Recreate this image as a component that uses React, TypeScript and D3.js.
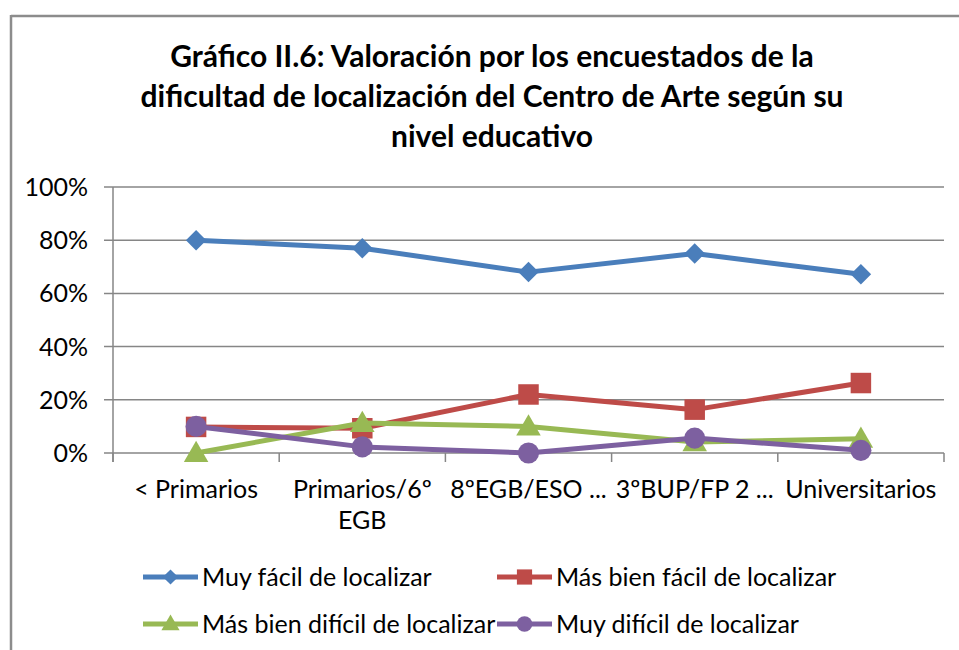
import React from 'react';
import * as d3 from 'd3';

const categories = ['< Primarios', 'Primarios/6º EGB', '8ºEGB/ESO ...', '3ºBUP/FP 2 ...', 'Universitarios'];
const tickLabels = [['< Primarios'], ['Primarios/6º', 'EGB'], ['8ºEGB/ESO ...'], ['3ºBUP/FP 2 ...'], ['Universitarios']];
const seriesNames = ['Muy fácil de localizar', 'Más bien fácil de localizar', 'Más bien difícil de localizar', 'Muy difícil de localizar'];
const muyFacil = [80, 77, 68, 75, 67.2];
const masBienFacil = [9.8, 9.3, 22, 16.3, 26.3];
const masBienDificil = [0, 11.3, 10, 4.1, 5.4];
const muyDificil = [10, 2.3, 0, 5.6, 1];
const yTicks = [0, 20, 40, 60, 80, 100];
const titleLines = [
  'Gráfico II.6: Valoración por los encuestados de la',
  'dificultad de localización del Centro de Arte según su',
  'nivel educativo',
];

const colors = ['#4a7ebb', '#be4b48', '#98b954', '#7d60a0'];
// diamond = square turned 45 degrees
const shapes = [d3.symbolSquare, d3.symbolSquare, d3.symbolTriangle, d3.symbolCircle];
const rotations = [45, 0, 0, 0];
const symbolSizes = [210, 420, 260, 350];

const W = 959;
const H = 650;
const FONT = 'Lato, "Open Sans", sans-serif';

export default function App() {
  const values = [muyFacil, masBienFacil, masBienDificil, muyDificil];
  const x = d3.scaleBand().domain(categories).range([113, 944]).padding(0);
  const y = d3.scaleLinear().domain([0, 100]).range([453, 187]);
  const cx = (c: string) => (x(c) as number) + x.bandwidth() / 2;
  const line = d3
    .line<number>()
    .x((d, i) => cx(categories[i]))
    .y(d => y(d));

  const axisColor = '#868686';
  const boundaries = categories.map(c => x(c) as number).concat([944]);

  return (
    <svg width={W} height={H} style={{ position: 'absolute', left: 0, top: 0 }}>
      <rect x={0} y={0} width={W} height={H} fill="#fff" />
      {/* frame */}
      <line x1={11} y1={16} x2={W} y2={16} stroke="#8c8c8c" strokeWidth={2.5} />
      <line x1={11} y1={15} x2={11} y2={H} stroke="#8c8c8c" strokeWidth={2.5} />

      {/* title */}
      {titleLines.map((t, i) => (
        <text
          key={i}
          x={492}
          y={67 + i * 40}
          textAnchor="middle"
          fontFamily={FONT}
          fontWeight="bold"
          fontSize={30}
          fill="#000"
        >
          {t}
        </text>
      ))}

      {/* gridlines + y labels */}
      {yTicks.map(t => (
        <g key={t}>
          <line x1={104} x2={944} y1={y(t)} y2={y(t)} stroke={axisColor} strokeWidth={1.5} />
          <text
            x={88}
            y={y(t)}
            dy="0.36em"
            textAnchor="end"
            fontFamily={FONT}
            fontSize={25}
            fill="#000"
          >
            {t}%
          </text>
        </g>
      ))}
      <line x1={113} x2={113} y1={187} y2={462} stroke={axisColor} strokeWidth={1.5} />
      {boundaries.map((b, i) => (
        <line key={i} x1={b} x2={b} y1={453} y2={462} stroke={axisColor} strokeWidth={1.5} />
      ))}

      {/* x labels */}
      {categories.map((c, i) => (
        <text
          key={c}
          x={cx(c)}
          y={498}
          textAnchor="middle"
          fontFamily={FONT}
          fontSize={25}
          fill="#000"
        >
          {tickLabels[i].map((l, j) => (
            <tspan key={j} x={cx(c)} dy={j === 0 ? 0 : 31}>
              {l}
            </tspan>
          ))}
        </text>
      ))}

      {/* series */}
      {values.map((vals, s) => (
        <g key={s}>
          <path d={line(vals) as string} fill="none" stroke={colors[s]} strokeWidth={5} strokeLinejoin="round" />
          {vals.map((v, i) => (
            <path
              key={i}
              d={d3.symbol().type(shapes[s]).size(symbolSizes[s])() as string}
              transform={`translate(${cx(categories[i])},${y(v) + (s === 2 ? 2 : 0)}) rotate(${rotations[s]})`}
              fill={colors[s]}
            />
          ))}
        </g>
      ))}

      {/* legend */}
      {seriesNames.map((n, s) => {
        const lx = s % 2 === 0 ? 143 : 497;
        const ly = s < 2 ? 577 : 624;
        return (
          <g key={n}>
            <line x1={lx} x2={lx + 55} y1={ly} y2={ly} stroke={colors[s]} strokeWidth={5} />
            <path
              d={d3.symbol().type(shapes[s]).size(symbolSizes[s] * 0.55)() as string}
              transform={`translate(${lx + 27.5},${ly + (s === 2 ? 1 : 0)}) rotate(${rotations[s]})`}
              fill={colors[s]}
            />
            <text x={lx + 59} y={ly} dy="0.36em" fontFamily={FONT} fontSize={25} fill="#000">
              {n}
            </text>
          </g>
        );
      })}
    </svg>
  );
}
